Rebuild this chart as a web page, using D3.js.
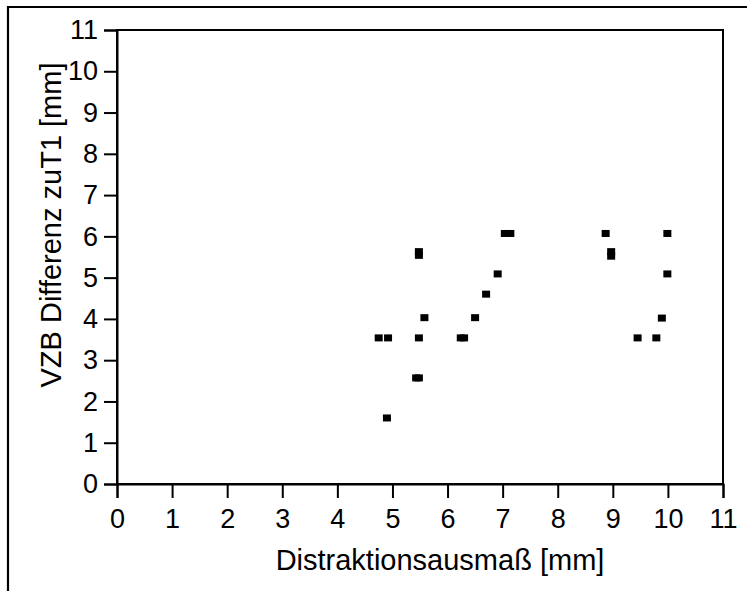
<!DOCTYPE html>
<html>
<head>
<meta charset="utf-8">
<script src="https://cdn.jsdelivr.net/npm/d3@7"></script>
<style>
  html, body { margin: 0; padding: 0; background: #fff; }
  svg { display: block; }
  text { font-family: "Liberation Sans", Arial, Helvetica, sans-serif; fill: #000; }
</style>
</head>
<body>
<svg id="chart" width="747" height="591"></svg>
<script>
// Distraction amount [mm] vs. VZB difference to T1 [mm]
const distraction = [4.75, 4.92, 4.9, 5.43, 5.48, 5.48, 5.48, 5.48, 5.58, 6.24, 6.30, 6.50, 6.70, 6.91, 7.04, 7.14, 8.87, 8.97, 8.97, 9.45, 9.79, 9.89, 9.99, 9.99];
const vzbDiff     = [3.54, 3.54, 1.60, 2.57, 2.57, 3.54, 5.63, 5.54, 4.03, 3.54, 3.54, 4.03, 4.60, 5.09, 6.07, 6.07, 6.07, 5.63, 5.52, 3.54, 3.54, 4.02, 5.09, 6.07];
const xTicks = [0, 1, 2, 3, 4, 5, 6, 7, 8, 9, 10, 11];
const yTicks = [0, 1, 2, 3, 4, 5, 6, 7, 8, 9, 10, 11];
const xTitle = "Distraktionsausmaß [mm]";
const yTitle = "VZB Differenz zuT1 [mm]";

const points = distraction.map((d, i) => ({ x: d, y: vzbDiff[i] }));

const svg = d3.select("#chart");
const plot = { left: 117, right: 723, top: 30, bottom: 484 };
const tickFont = 27, titleFont = 29;

const x = d3.scaleLinear().domain([0, 11]).range([plot.left, plot.right]);
const y = d3.scaleLinear().domain([0, 11]).range([plot.bottom, plot.top]);

// outer frame (top and left edges)
svg.append("path")
  .attr("d", "M8,591 L8,7 L747,7")
  .attr("fill", "none").attr("stroke", "#000").attr("stroke-width", 2.2);

// plot box
svg.append("rect")
  .attr("x", plot.left).attr("y", plot.top)
  .attr("width", plot.right - plot.left).attr("height", plot.bottom - plot.top)
  .attr("fill", "none").attr("stroke", "#000").attr("stroke-width", 2);

const xAxis = svg.append("g")
  .attr("transform", `translate(0,${plot.bottom})`)
  .call(d3.axisBottom(x).tickValues(xTicks).tickFormat(d3.format("d")).tickSize(14).tickPadding(11));
const yAxis = svg.append("g")
  .attr("transform", `translate(${plot.left},0)`)
  .call(d3.axisLeft(y).tickValues(yTicks).tickFormat(d3.format("d")).tickSize(13).tickPadding(6));

[xAxis, yAxis].forEach(g => {
  g.attr("font-size", tickFont).attr("font-family", "'Liberation Sans', Arial, sans-serif");
  g.select(".domain").attr("stroke", "#000").attr("stroke-width", 2);
  g.selectAll(".tick line").attr("stroke", "#000").attr("stroke-width", 2);
  g.selectAll(".tick text").attr("fill", "#000");
});

// axis titles
svg.append("text")
  .attr("x", 440).attr("y", 570)
  .attr("text-anchor", "middle").attr("font-size", titleFont)
  .text(xTitle);
svg.append("text")
  .attr("transform", `translate(61,225) rotate(-90)`)
  .attr("text-anchor", "middle").attr("font-size", titleFont)
  .text(yTitle);

// data markers: small filled squares
const mw = 8, mh = 7;
svg.append("g").selectAll("rect")
  .data(points)
  .join("rect")
  .attr("x", d => x(d.x) - mw / 2)
  .attr("y", d => y(d.y) - mh / 2)
  .attr("width", mw).attr("height", mh)
  .attr("fill", "#000");
</script>
</body>
</html>
